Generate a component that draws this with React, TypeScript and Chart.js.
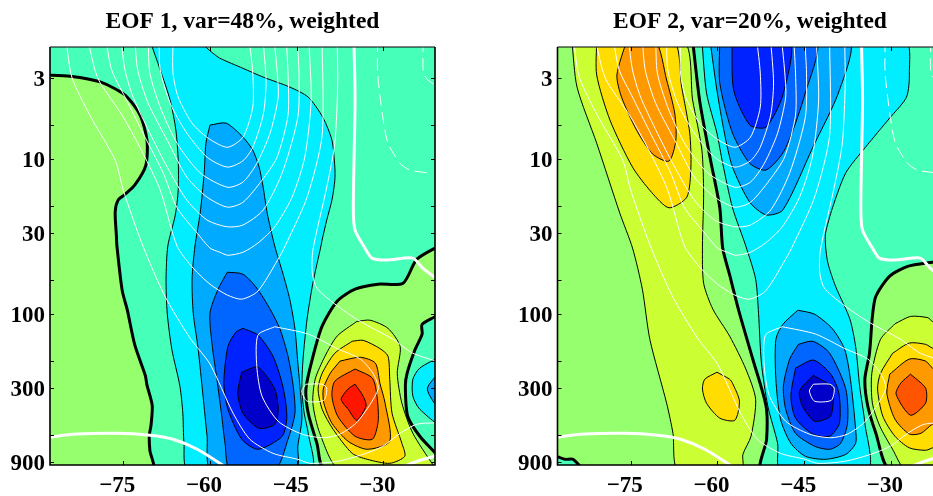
import React, { useEffect, useRef } from "react";
import { Chart, registerables } from "chart.js";

Chart.register(...registerables);

type Pt = [number, number];

const xTickValues = [-75, -60, -45, -30];
const yTickValues = [3, 10, 30, 100, 300, 900];
const yTickMarks = [3, 6, 10, 20, 30, 60, 100, 200, 300, 600, 900];
const lonRange = [-87.68, -21.07];
const presRange = [1.88, 937];
const outerBox: Pt[] = [[-88.7, 1.7], [-20, 1.7], [-20, 1010], [-88.7, 1010]];

// ---- colours of the filled levels
const AQUA = "#46FFB9", GREEN = "#96FF6E", CYAN = "#00EEFF", SKY = "#00AAFF", BLUE = "#0066FF",
  PURE = "#0022FF", DARK = "#0000C8", LIME = "#CCFF33", YELLOW = "#FFDD00", ORANGE = "#FF9900",
  FLAME = "#FF5500", RED = "#FF1500";

// ---- EOF 1 regions: [longitude, pressure]
const e1GreenW: Pt[] = [[-88.7, 2.85], [-84.2, 2.9], [-79.0, 3.16], [-74.7, 3.84], [-72.1, 5.17], [-70.9, 7.51], [-71.1, 10.9], [-73.0, 14.6], [-74.7, 16.8], [-75.9, 18.3], [-76.4, 21.8], [-76.2, 30.8], [-76.1, 36.2], [-75.2, 69.7], [-74.3, 93.9], [-73.0, 158], [-71.2, 247], [-70.9, 286], [-70.0, 386], [-70.2, 519], [-70.5, 602], [-70.4, 753], [-69.9, 1010], [-88.7, 1010]];
const e1Cyan: Pt[] = [[-70.4, 1.7], [-68.6, 2.65], [-66.9, 4.14], [-65.9, 6.47], [-65.5, 10.1], [-65.5, 15.8], [-66.0, 22.8], [-67.3, 36.2], [-67.6, 59.2], [-67.4, 98.2], [-66.6, 168], [-65.2, 291], [-64.7, 434], [-64.5, 679], [-63.8, 1010], [-42.5, 1010], [-43.0, 585], [-43.7, 434], [-44.1, 303], [-43.9, 194], [-43.2, 107], [-42.2, 62.9], [-40.8, 36.2], [-40.6, 33.1], [-39.8, 24.6], [-38.9, 18.3], [-38.4, 13.6], [-38.4, 11.2], [-38.9, 7.51], [-40.5, 5.33], [-43.0, 3.96], [-46.2, 3.41], [-50.8, 2.94], [-54.3, 2.58], [-58.3, 2.22], [-59.5, 2.06], [-62.5, 1.7]];
const e1Sky: Pt[] = [[-60.0, 6.0], [-57.2, 5.83], [-54.3, 7.18], [-52.6, 8.71], [-51.5, 11.2], [-50.8, 15.1], [-50.1, 22.2], [-48.8, 36.2], [-47.4, 54.2], [-46.2, 79.7], [-45.3, 124], [-44.8, 206], [-44.4, 303], [-44.1, 474], [-44.8, 709], [-45.1, 1010], [-59.8, 1010], [-60.5, 611], [-61.2, 337], [-62.1, 161], [-62.9, 98.2], [-63.1, 59.2], [-62.6, 36.2], [-61.7, 22.2], [-61.0, 12.2], [-60.7, 7.86]];
const e1Blue: Pt[] = [[-57.0, 53.4], [-54.3, 55], [-51.9, 67.7], [-49.6, 92.5], [-47.9, 124], [-46.5, 186], [-45.6, 291], [-45.3, 434], [-46.5, 639], [-48.8, 1010], [-56.5, 1010], [-57.4, 679], [-57.9, 474], [-58.8, 262], [-59.6, 161], [-60.0, 98.2], [-58.6, 68.7]];
const e1Pure: Pt[] = [[-54.3, 123], [-51.7, 136], [-49.1, 186], [-47.4, 291], [-46.7, 454], [-47.5, 611], [-51.7, 742], [-54.5, 639], [-56.9, 409], [-57.6, 278], [-56.9, 161], [-55.5, 130]];
const e1Dark: Pt[] = [[-54.5, 236], [-51.7, 219], [-48.8, 303], [-48.2, 409], [-48.8, 511], [-51.5, 543], [-54.3, 434], [-55.2, 322]];
const e1GreenE: Pt[] = [[-20, 35.5], [-24.2, 44], [-26.6, 62.9], [-30.9, 63.8], [-34.9, 68.7], [-38.0, 82.1], [-40.6, 119], [-42.3, 194], [-43.4, 303], [-43.0, 434], [-41.5, 679], [-40.1, 1010], [-20, 1010], [-20, 874], [-23.7, 611], [-25.8, 454], [-26.2, 291], [-25.9, 240], [-24.5, 168], [-23.3, 134], [-23.3, 116], [-20, 95]];
const e1CyanE: Pt[] = [[-20, 186], [-23.7, 222], [-24.9, 262], [-24.9, 337], [-23.7, 409], [-20, 511]];
const e1SkyE: Pt[] = [[-20, 229], [-22.4, 303], [-20, 415]];
const e1Lime: Pt[] = [[-34.6, 111], [-32.3, 109], [-29.2, 123], [-27.1, 161], [-27.6, 240], [-26.8, 374], [-24.9, 585], [-21.4, 937], [-20.7, 1010], [-37.5, 1010], [-41.0, 585], [-42.2, 374], [-41.8, 262], [-40.1, 186], [-38.0, 138]];
const e1Yellow: Pt[] = [[-35.4, 149], [-33.5, 147], [-30.6, 166], [-29.2, 186], [-28.9, 262], [-28.5, 434], [-26.8, 679], [-26.3, 823], [-28.9, 914], [-32.8, 861], [-35.4, 788], [-38.7, 551], [-40.6, 409], [-41.3, 303], [-40.6, 240], [-38.4, 178]];
const e1Orange: Pt[] = [[-37.5, 200], [-34.0, 189], [-31.4, 206], [-30.6, 278], [-29.7, 374], [-28.9, 659], [-32.8, 742], [-36.1, 659], [-38.9, 504], [-40.3, 374], [-40.4, 303], [-39.2, 240]];
const e1Flame: Pt[] = [[-34.9, 225], [-31.9, 258], [-31.1, 337], [-30.9, 489], [-31.9, 639], [-34.9, 611], [-37.9, 454], [-38.9, 337], [-38.4, 270]];
const e1Red: Pt[] = [[-34.9, 282], [-33.5, 337], [-33.0, 390], [-34.6, 482], [-36.1, 409], [-37.3, 353], [-36.1, 303]];

// ---- EOF 2 regions
const e2Aqua: Pt[] = [[-64.3, 1.7], [-63.1, 4.14], [-61.3, 9.67], [-59.6, 20.5], [-59.1, 37.3], [-57.9, 55.6], [-56.2, 98.2], [-53.9, 194], [-51.6, 390], [-51.5, 639], [-52.3, 1010], [-20, 1010], [-20, 1.7]];
const e2AquaSW: Pt[] = [[-88.7, 800], [-86.4, 861], [-85.0, 861], [-83.5, 1010], [-88.7, 1010]];
const e2LimeW: Pt[] = [[-85.2, 1.7], [-84.3, 3.41], [-80.9, 7.85], [-76.9, 22.2], [-74.7, 37.3], [-73.0, 68.7], [-71.7, 145], [-68.8, 374], [-67.7, 585], [-66.8, 1010], [-55.8, 1010], [-55.6, 800], [-54.2, 611], [-53.4, 353], [-55.1, 225], [-57.9, 138], [-60.8, 92.5], [-62.4, 62.9], [-62.6, 36.2], [-62.4, 16.5], [-62.7, 8.71], [-64.3, 4.14], [-66.0, 1.7]];
const e2YellowW: Pt[] = [[-80.9, 1.7], [-80.9, 2.85], [-78.6, 5.57], [-74.7, 11.2], [-71.4, 16.3], [-68.4, 20.5], [-65.3, 17.5], [-64.6, 11.2], [-64.8, 6.76], [-66.2, 3.41], [-67.7, 1.7]];
const e2OrangeW: Pt[] = [[-75.7, 1.7], [-77.4, 2.85], [-76.6, 3.96], [-74.0, 6.47], [-71.2, 9.24], [-68.4, 10.25], [-67.2, 7.51], [-67.4, 5.02], [-68.8, 3.07], [-70.8, 1.7]];
const e2Lobe: Pt[] = [[-60.1, 236], [-57.9, 262], [-57.4, 278], [-56.2, 363], [-57.0, 482], [-59.6, 467], [-61.9, 374], [-62.6, 303], [-62.2, 262]];
const e2Cyan: Pt[] = [[-62.7, 1.7], [-61.9, 3.72], [-60.1, 6.76], [-59.1, 10.6], [-57.4, 20.5], [-55.1, 36.2], [-53.4, 59.2], [-52.9, 98.2], [-52.4, 206], [-51.3, 390], [-49.6, 679], [-49.1, 1010], [-34.0, 1010], [-34.5, 504], [-35.4, 291], [-36.1, 161], [-37.1, 107], [-39.6, 65.5], [-40.9, 46.6], [-41.3, 36.2], [-41.3, 29.9], [-40.1, 20.5], [-37.8, 12.2], [-34.4, 8.34], [-30.2, 5.4], [-27.3, 3.96], [-26.8, 2.77], [-27.6, 1.7]];
const e2SkyN: Pt[] = [[-61.3, 1.7], [-60.1, 3.57], [-58.8, 6.76], [-57.4, 11.2], [-54.4, 18.9], [-51.6, 22.8], [-48.7, 21.2], [-43.5, 8.34], [-38.9, 3.57], [-37.3, 1.7]];
const e2BlueN: Pt[] = [[-59.6, 1.7], [-59.6, 3.21], [-57.4, 6.76], [-54.4, 10.6], [-51.6, 11.7], [-48.4, 8.71], [-44.8, 3.72], [-43.0, 1.7]];
const e2PureN: Pt[] = [[-57.5, 1.7], [-57.2, 3.57], [-54.4, 6.0], [-51.6, 6.18], [-48.7, 3.84], [-47.5, 1.7]];
const e2SkyS: Pt[] = [[-46.1, 93.9], [-43.2, 99.7], [-40.1, 124], [-38.0, 168], [-37.0, 262], [-36.1, 551], [-36.1, 679], [-37.8, 800], [-41.3, 861], [-44.8, 823], [-47.3, 679], [-49.1, 474], [-49.9, 262], [-49.9, 145], [-48.7, 116]];
const e2BlueS: Pt[] = [[-46.0, 156], [-43.5, 149], [-40.6, 178], [-37.8, 303], [-37.5, 504], [-38.7, 679], [-40.6, 742], [-43.2, 709], [-46.5, 585], [-48.2, 409], [-48.6, 291], [-47.5, 194]];
const e2PureS: Pt[] = [[-46.5, 222], [-43.4, 197], [-40.4, 243], [-39.0, 322], [-38.9, 504], [-40.6, 611], [-43.5, 592], [-46.5, 467], [-47.3, 337]];
const e2DarkS: Pt[] = [[-43.4, 247], [-40.1, 299], [-40.1, 409], [-40.6, 460], [-43.2, 489], [-45.3, 390], [-45.8, 312]];
const e2GreenE: Pt[] = [[-20, 44.5], [-22.8, 46], [-27.1, 49], [-30.2, 56.6], [-32.6, 76.3], [-33.2, 103], [-33.7, 178], [-34.5, 262], [-34.0, 390], [-32.6, 585], [-30.2, 1010], [-20, 1010]];
const e2LimeE: Pt[] = [[-29.3, 115], [-26.6, 103], [-23.6, 105], [-22.8, 111], [-20, 118], [-20, 1010], [-27.4, 1010], [-29.7, 742], [-31.9, 527], [-33.2, 374], [-33.3, 240], [-31.8, 145]];
const e2YellowE: Pt[] = [[-29.7, 178], [-26.8, 153], [-24.0, 156], [-22.8, 165], [-20, 175], [-20, 660], [-22.8, 726], [-24.0, 753], [-26.8, 726], [-29.3, 611], [-31.4, 454], [-32.3, 303], [-31.8, 240]];
const e2OrangeE: Pt[] = [[-30.2, 243], [-26.8, 194], [-24.0, 200], [-22.8, 222], [-20, 250], [-20, 470], [-22.8, 511], [-24.8, 585], [-26.8, 592], [-29.3, 474], [-30.7, 322]];
const e2FlameE: Pt[] = [[-26.6, 243], [-24.0, 299], [-24.0, 374], [-26.6, 447], [-29.1, 327], [-28.3, 278]];

// ---- white climatology contours, the same in both panels
const w1: Pt[] = [[-66.4, 1.7], [-66.4, 2.77], [-65.5, 3.96], [-63.1, 5.83], [-60.3, 7.29], [-57.0, 8.34], [-54.3, 7.18], [-52.6, 4.6], [-52.6, 2.77], [-53.2, 1.7]];
const w2: Pt[] = [[-68.8, 1.7], [-68.6, 2.65], [-66.9, 4.33], [-64.0, 6.76], [-60.5, 9.67], [-57.0, 11.2], [-54.3, 10.2], [-52.6, 8.34], [-50.8, 5.17], [-50.3, 3.21], [-50.8, 1.7]];
const w3: Pt[] = [[-70.7, 1.7], [-70.4, 2.77], [-68.6, 4.6], [-65.7, 7.85], [-61.7, 12.2], [-57.0, 15.1], [-54.3, 14.0], [-51.9, 10.6], [-49.6, 6.76], [-48.2, 3.96], [-48.4, 2.65], [-48.9, 1.7]];
const w4: Pt[] = [[-73.0, 1.7], [-72.5, 2.65], [-70.7, 4.33], [-67.4, 7.51], [-64.0, 13.0], [-60.5, 17.5], [-57.0, 20.3], [-54.3, 18.9], [-51.0, 13.6], [-48.4, 9.67], [-46.5, 5.17], [-46.5, 2.77], [-46.8, 1.7]];
const w5: Pt[] = [[-75.4, 1.7], [-74.7, 2.65], [-73.3, 3.96], [-70.4, 6.76], [-67.4, 11.2], [-64.0, 18.3], [-60.5, 24.6], [-57.0, 27.2], [-54.3, 26.5], [-50.8, 21.2], [-47.5, 12.2], [-44.8, 5.33], [-44.6, 2.77], [-44.9, 1.7]];
const w6: Pt[] = [[-78.0, 1.7], [-77.0, 2.65], [-74.7, 3.96], [-71.6, 6.76], [-68.1, 12.2], [-65.7, 20.5], [-62.2, 29.9], [-60.0, 37.3], [-58.3, 39.7], [-56.9, 41.5], [-54.3, 39.7], [-51.7, 34.6], [-48.8, 27.2], [-45.8, 17.5], [-43.6, 9.67], [-42.5, 4.14], [-42.9, 1.7]];
const w7: Pt[] = [[-81.1, 1.7], [-79.9, 2.65], [-79.0, 3.2], [-75.0, 5.33], [-71.6, 9.11], [-68.6, 15.8], [-65.7, 36.2], [-62.9, 50.3], [-60.0, 63.8], [-57.0, 75], [-54.5, 79.7], [-51.7, 70.7], [-47.9, 42], [-47.0, 36.2], [-43.2, 17.5], [-40.6, 7.0], [-40.6, 1.7]];
const w8: Pt[] = [[-84.9, 1.7], [-83.9, 2.94], [-80.8, 5.17], [-76.4, 10.1], [-75.0, 15.8], [-71.6, 36.2], [-67.8, 76.2], [-63.4, 143], [-60.0, 209], [-56.0, 434], [-53.1, 639], [-49.1, 788], [-44.8, 861], [-42.7, 914], [-38.0, 887], [-33.5, 800], [-30.1, 709], [-27.1, 585], [-24.2, 511], [-20, 500]];
const w9: Pt[] = [[-38.0, 1.7], [-37.9, 3.21], [-38.4, 7.85], [-39.8, 15.1], [-42.2, 38.5], [-42.3, 54.2], [-41.5, 67.7], [-38.4, 85.7], [-34.0, 111], [-28.3, 145], [-24.9, 178], [-20, 205]];
const w10: Pt[] = [[-48.8, 120], [-51.7, 136], [-51.9, 217], [-51.0, 337], [-48.2, 489], [-44.1, 592], [-40.4, 625], [-37.5, 592], [-34.4, 489], [-30.9, 303], [-31.8, 240], [-34.0, 194], [-38.0, 166], [-43.0, 134], [-48.8, 120]];
const w11: Pt[] = [[-43.4, 282], [-40.6, 282], [-39.8, 299], [-40.3, 358], [-43.2, 363], [-44.1, 312], [-43.4, 282]];
const zeroA: Pt[] = [[-35.1, 1.7], [-34.9, 4.14], [-35.2, 20.4], [-34.9, 28.6], [-33.2, 37.3], [-32.0, 43.3], [-29.4, 44.6], [-24.9, 43.3], [-23.2, 50.3], [-20, 62]];
const zeroB: Pt[] = [[-88.7, 625], [-83.0, 592], [-76.1, 585], [-70.4, 602], [-66.4, 639], [-62.2, 742], [-56.5, 1010]];
const zeroC: Pt[] = [[-28, 1010], [-24.2, 887], [-20, 800]];
const dashA: Pt[] = [[-31.0, 1.7], [-31.0, 2.77], [-30.1, 5.33], [-29.2, 7.85], [-27.1, 10.6], [-25.4, 11.7], [-22.3, 12.2]];
const dashB: Pt[] = [[-23.1, 1.7], [-23.1, 2.73], [-22.3, 3.07], [-20, 3.5]];

const FONT = "'Liberation Serif', 'Times New Roman', serif";
const SMOOTH = 0.25;

const area = (pts: Pt[], color: string, width = 1) => ({
  data: [...pts, pts[0]].map(([x, y]) => ({ x, y })),
  showLine: true,
  fill: "shape",
  backgroundColor: color,
  borderColor: width ? "#000" : color,
  borderWidth: width,
  pointRadius: 0,
  tension: SMOOTH,
  clip: 0,
});
const line = (pts: Pt[], width = 1, dash: number[] = []) => ({
  data: pts.map(([x, y]) => ({ x, y })),
  showLine: true,
  fill: false,
  borderColor: "#fff",
  borderWidth: width,
  borderDash: dash,
  pointRadius: 0,
  tension: SMOOTH,
  clip: 0,
});
const whites = () => [
  ...[w1, w2, w3, w4, w5, w6, w7, w8, w9, w10, w11].map((l) => line(l, 1)),
  line(zeroA, 3), line(zeroB, 3), line(zeroC, 3),
  line(dashA, 1, [12, 6]), line(dashB, 1, [12, 6]),
];

const panel1 = () => [
  { ...area(outerBox, AQUA, 0), tension: 0 },
  area(e1GreenW, GREEN, 3),
  area(e1Cyan, CYAN), area(e1Sky, SKY), area(e1Blue, BLUE), area(e1Pure, PURE), area(e1Dark, DARK),
  area(e1GreenE, GREEN, 3), area(e1CyanE, CYAN), area(e1SkyE, SKY),
  area(e1Lime, LIME), area(e1Yellow, YELLOW), area(e1Orange, ORANGE), area(e1Flame, FLAME), area(e1Red, RED),
  ...whites(),
];
const panel2 = () => [
  { ...area(outerBox, GREEN, 0), tension: 0 },
  area(e2AquaSW, AQUA, 3),
  area(e2LimeW, LIME), area(e2YellowW, YELLOW), area(e2OrangeW, ORANGE), area(e2Lobe, YELLOW),
  area(e2Aqua, AQUA, 3),
  area(e2Cyan, CYAN), area(e2SkyN, SKY), area(e2BlueN, BLUE), area(e2PureN, PURE),
  area(e2SkyS, SKY), area(e2BlueS, BLUE), area(e2PureS, PURE), area(e2DarkS, DARK),
  area(e2GreenE, GREEN, 3), area(e2LimeE, LIME), area(e2YellowE, YELLOW), area(e2OrangeE, ORANGE), area(e2FlameE, FLAME),
  ...whites(),
];

const frame = {
  id: "frame",
  afterDatasetsDraw(chart: any) {
    const { ctx, chartArea: a, scales } = chart;
    ctx.save();
    ctx.strokeStyle = "#000";
    ctx.lineWidth = 1;
    ctx.beginPath();
    for (const v of yTickMarks) {
      const y = Math.round(scales.y.getPixelForValue(v)) + 0.5;
      ctx.moveTo(a.left, y); ctx.lineTo(a.left + 4, y);
      ctx.moveTo(a.right, y); ctx.lineTo(a.right - 4, y);
    }
    for (const v of xTickValues) {
      const x = Math.round(scales.x.getPixelForValue(v)) + 0.5;
      ctx.moveTo(x, a.top); ctx.lineTo(x, a.top + 4);
      ctx.moveTo(x, a.bottom); ctx.lineTo(x, a.bottom - 4);
    }
    ctx.stroke();
    ctx.lineWidth = 1;
    ctx.beginPath();
    ctx.moveTo(a.left, a.top); ctx.lineTo(a.right, a.top);
    ctx.stroke();
    ctx.lineWidth = 1.6;
    ctx.beginPath();
    ctx.moveTo(a.left, a.top); ctx.lineTo(a.left, a.bottom); ctx.lineTo(a.right, a.bottom); ctx.lineTo(a.right, a.top);
    ctx.stroke();
    ctx.restore();
  },
};

function Panel({ title, left, width, axisWidth, rightPad, build }: any) {
  const ref = useRef<HTMLCanvasElement>(null);
  useEffect(() => {
    const chart = new Chart(ref.current as HTMLCanvasElement, {
      type: "scatter",
      data: { datasets: build().reverse() },
      plugins: [frame],
      options: {
        animation: false,
        responsive: false,
        devicePixelRatio: 1,
        elements: { line: { capBezierPoints: false } },
        layout: { padding: { left: 0, right: rightPad, top: 0, bottom: 0 } },
        plugins: {
          legend: { display: false },
          tooltip: { enabled: false },
          title: {
            display: true,
            fullSize: false,
            text: title,
            color: "#000",
            font: { family: FONT, size: 23.5, weight: "bold", lineHeight: 1.2 },
            padding: { top: 8, bottom: 10.8 },
          },
        },
        scales: {
          x: {
            type: "linear",
            min: lonRange[0],
            max: lonRange[1],
            grid: { display: false, drawTicks: false },
            border: { display: false },
            afterBuildTicks: (s: any) => { s.ticks = xTickValues.map((value) => ({ value })); },
            afterFit: (s: any) => { s.height = 31; },
            ticks: {
              autoSkip: false, maxRotation: 0, padding: 7, labelOffset: -6, color: "#000",
              font: { family: FONT, size: 23, weight: "bold" },
              callback: (v: any) => "\u2212" + Math.abs(v),
            },
          },
          y: {
            type: "logarithmic",
            reverse: true,
            min: presRange[0],
            max: presRange[1],
            grid: { display: false, drawTicks: false },
            border: { display: false },
            afterBuildTicks: (s: any) => { s.ticks = yTickValues.map((value) => ({ value })); },
            afterFit: (s: any) => { s.width = axisWidth; },
            ticks: {
              autoSkip: false, padding: 5, labelOffset: 2, color: "#000",
              font: { family: FONT, size: 23, weight: "bold" },
              callback: (v: any) => String(v),
            },
          },
        },
      } as any,
    });
    return () => chart.destroy();
  }, []);
  return (
    <canvas
      ref={ref}
      width={width}
      height={496}
      style={{ position: "absolute", left, top: 0, width, height: 496, display: "block" }}
    />
  );
}

export default function App() {
  return (
    <div style={{ position: "fixed", left: 0, top: 0, width: 933, height: 496, overflow: "hidden", background: "#fff" }}>
      <Panel title={"EOF 1, var=48%, weighted"} left={0} width={460} axisWidth={50} rightPad={25} build={panel1} />
      <Panel title={"EOF 2, var=20%, weighted"} left={500} width={460} axisWidth={57.5} rightPad={17.5} build={panel2} />
    </div>
  );
}
